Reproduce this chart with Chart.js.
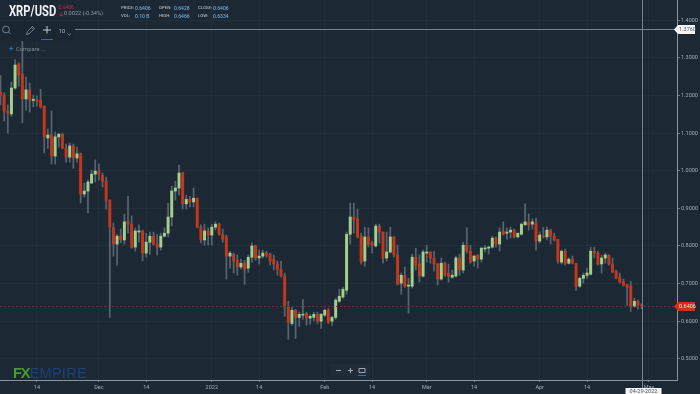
<!DOCTYPE html>
<html>
<head>
<meta charset="utf-8">
<title>XRP/USD</title>
<script src="https://cdn.jsdelivr.net/npm/chart.js@4/dist/chart.umd.js"></script>
<style>
    html, body { margin: 0; padding: 0; background: #1c2935; }
    #wrap { position: relative; width: 700px; height: 394px; overflow: hidden; font-family: Roboto, sans-serif; }
    #chart { position: absolute; left: 0; top: 0; }
    .t { position: absolute; white-space: nowrap; line-height: 1; }
    .lbl { font-size: 4.3px; color: #aeb6bd; font-weight: 500; }
    .val { font-size: 5px; color: #6fa6d6; font-weight: 500; margin-top: -0.3px; }
    svg { position: absolute; }
</style>
</head>
<body>
<div id="wrap">
    <canvas id="chart" width="700" height="394"></canvas>

    <!-- header -->
    <div class="t" style="left:9px;top:4px;font-size:14px;font-weight:700;color:#eef1f3;font-family:'Roboto';transform:scaleX(.8);transform-origin:left">XRP/USD</div>
    <div class="t" style="left:58.5px;top:5px;font-size:5px;color:#c8263f">0.6406</div>
    <div class="t" style="left:59px;top:10.5px;font-size:6px;color:#c8263f;font-weight:700">&#129123;</div>
    <div class="t" style="left:64px;top:11px;font-size:5.6px;color:#8f99a2">0.0022 (-0.34%)</div>

    <div class="t lbl" style="left:121px;top:6px">PRICE:</div><div class="t val" style="left:135px;top:6px">0.6406</div>
    <div class="t lbl" style="left:159px;top:6px">OPEN:</div><div class="t val" style="left:174px;top:6px">0.6428</div>
    <div class="t lbl" style="left:198px;top:6px">CLOSE:</div><div class="t val" style="left:213px;top:6px">0.6406</div>
    <div class="t lbl" style="left:121px;top:14px">VOL:</div><div class="t val" style="left:135px;top:14px">0.10 B</div>
    <div class="t lbl" style="left:159px;top:14px">HIGH:</div><div class="t val" style="left:174px;top:14px">0.6466</div>
    <div class="t lbl" style="left:198px;top:14px">LOW:</div><div class="t val" style="left:213px;top:14px">0.6334</div>

    <!-- toolbar -->
    <div style="position:absolute;left:0;top:22px;width:75px;height:19px;background:#1a2631"></div>
    <svg style="left:0;top:22px" width="75" height="19" fill="none" stroke="#8e979f" stroke-width="0.8">
        <circle cx="6" cy="7.5" r="3.4"/><path d="M8.5 10l2 2"/>
        <path d="M26.5 12.5l1-3 5-5 2 2-5 5zM31.5 5.5l2 2"/>
        <path d="M47 4v7.5M43 8h8" stroke="#c3c9ce" stroke-width="1"/>
        <path d="M67.5 11.5l1.7 1.7 1.7-1.7"/>
    </svg>
    <div style="position:absolute;left:41px;top:39px;width:12px;height:1.2px;background:#2c6fb8"></div>
    <div class="t" style="left:58.5px;top:27.5px;font-size:6px;color:#aab2b9">10</div>
    <div class="t" style="left:9px;top:45px;font-size:8px;font-weight:700;color:#2c6fb8">+</div>
    <div class="t" style="left:16px;top:46.5px;font-size:5.8px;color:#7f8a93">Compare ...</div>

    <!-- zoom buttons -->
    <svg style="left:331px;top:364px" width="40" height="14" fill="none" stroke="#aeb6bd" stroke-width="0.9">
        <rect x="0" y="0" width="40" height="12" fill="#202d39" stroke="none"/>
        <path d="M5 6.5h5M17 6.5h5M19.5 4v5M28 4.5h6v4h-6z"/>
        <path d="M27 11.5h8" stroke="#2c6fb8" stroke-width="1"/>
    </svg>

    <!-- logo -->
    <div class="t" style="left:13px;top:366px;font-size:14.5px;font-family:'Liberation Sans'"><span style="color:#4e9a2d;font-weight:700;letter-spacing:-1px">FX</span><span style="color:#1c4078;letter-spacing:.3px">EMPIRE</span></div>
</div>

<script>
// XRP/USD daily candles, 2021-11-04 to 2022-04-29
const openVals = [
    1.209,1.201,1.159,1.151,1.220,1.284,1.257,1.191,1.215,1.187,
    1.188,1.188,1.172,1.087,1.095,1.039,1.090,1.097,1.060,1.036,
    1.066,1.034,1.045,0.938,0.946,0.967,0.991,0.999,0.988,0.972,
    0.922,0.848,0.805,0.826,0.816,0.864,0.858,0.797,0.837,0.840,
    0.781,0.810,0.826,0.805,0.797,0.826,0.834,0.877,0.946,0.954,
    0.994,0.912,0.924,0.917,0.927,0.850,0.816,0.840,0.829,0.850,
    0.858,0.831,0.824,0.773,0.778,0.762,0.744,0.754,0.741,0.770,
    0.800,0.768,0.773,0.781,0.778,0.765,0.752,0.738,0.720,0.637,
    0.594,0.629,0.610,0.616,0.621,0.608,0.610,0.618,0.600,0.616,
    0.629,0.600,0.610,0.653,0.664,0.682,0.831,0.877,0.872,0.826,
    0.760,0.824,0.808,0.800,0.853,0.837,0.768,0.784,0.824,0.776,
    0.701,0.722,0.693,0.693,0.770,0.752,0.720,0.781,0.784,0.768,
    0.752,0.712,0.754,0.728,0.717,0.720,0.768,0.736,0.802,0.786,
    0.760,0.776,0.765,0.792,0.794,0.797,0.821,0.805,0.840,0.834,
    0.837,0.842,0.824,0.831,0.856,0.864,0.858,0.861,0.813,0.826,
    0.824,0.842,0.826,0.818,0.757,0.786,0.754,0.765,0.754,0.693,
    0.714,0.722,0.725,0.786,0.781,0.752,0.768,0.776,0.752,0.733,
    0.717,0.706,0.698,0.693,0.640,0.653,0.6428
];
const closeVals = [
    1.201,1.159,1.153,1.220,1.281,1.254,1.191,1.215,1.188,1.190,
    1.185,1.170,1.090,1.095,1.039,1.090,1.097,1.060,1.036,1.066,
    1.034,1.045,0.938,0.946,0.970,0.991,0.999,0.991,0.972,0.922,
    0.850,0.805,0.826,0.816,0.864,0.858,0.797,0.840,0.840,0.781,
    0.810,0.826,0.805,0.797,0.826,0.834,0.877,0.946,0.954,0.994,
    0.912,0.924,0.917,0.927,0.850,0.816,0.840,0.829,0.850,0.858,
    0.831,0.818,0.773,0.781,0.760,0.744,0.754,0.738,0.770,0.800,
    0.768,0.773,0.781,0.776,0.760,0.752,0.738,0.720,0.637,0.597,
    0.629,0.610,0.618,0.618,0.608,0.613,0.618,0.600,0.618,0.629,
    0.597,0.610,0.656,0.666,0.685,0.831,0.877,0.869,0.824,0.757,
    0.824,0.805,0.802,0.853,0.837,0.768,0.784,0.824,0.776,0.698,
    0.722,0.693,0.696,0.770,0.749,0.720,0.784,0.784,0.768,0.752,
    0.712,0.754,0.722,0.720,0.722,0.768,0.736,0.802,0.786,0.757,
    0.773,0.765,0.794,0.794,0.797,0.821,0.805,0.837,0.831,0.837,
    0.842,0.824,0.834,0.858,0.864,0.856,0.864,0.813,0.829,0.824,
    0.842,0.826,0.816,0.760,0.786,0.754,0.765,0.754,0.693,0.714,
    0.722,0.728,0.786,0.781,0.752,0.768,0.776,0.752,0.730,0.714,
    0.704,0.696,0.690,0.640,0.653,0.642,0.6406
];
const highVals = [
    1.254,1.207,1.175,1.236,1.295,1.287,1.345,1.249,1.233,1.201,
    1.199,1.217,1.172,1.111,1.159,1.103,1.100,1.100,1.071,1.074,
    1.071,1.063,1.047,0.967,0.975,1.002,1.029,1.018,0.994,0.983,
    0.922,0.861,0.831,0.845,0.885,0.932,0.880,0.848,0.856,0.842,
    0.834,0.837,0.837,0.831,0.834,0.848,0.914,0.959,0.972,1.015,
    0.996,0.935,0.932,0.954,0.927,0.856,0.858,0.848,0.858,0.864,
    0.861,0.845,0.829,0.786,0.781,0.776,0.765,0.762,0.776,0.808,
    0.802,0.789,0.789,0.786,0.781,0.776,0.760,0.760,0.728,0.653,
    0.637,0.632,0.624,0.658,0.624,0.618,0.624,0.624,0.621,0.632,
    0.634,0.613,0.661,0.685,0.690,0.837,0.914,0.914,0.898,0.834,
    0.850,0.848,0.813,0.858,0.858,0.837,0.837,0.850,0.824,0.802,
    0.728,0.744,0.714,0.778,0.794,0.776,0.789,0.802,0.784,0.786,
    0.754,0.768,0.757,0.752,0.736,0.773,0.778,0.810,0.848,0.802,
    0.776,0.776,0.797,0.802,0.800,0.826,0.824,0.848,0.864,0.848,
    0.850,0.845,0.834,0.861,0.912,0.885,0.872,0.874,0.837,0.850,
    0.850,0.845,0.834,0.818,0.789,0.792,0.768,0.773,0.754,0.717,
    0.728,0.741,0.797,0.797,0.786,0.776,0.781,0.776,0.768,0.736,
    0.728,0.712,0.698,0.706,0.661,0.656,0.6466
];
const lowVals = [
    1.175,1.132,1.100,1.145,1.217,1.225,1.127,1.161,1.156,1.170,
    1.172,1.167,1.047,1.060,1.018,1.018,1.063,1.058,1.023,1.023,
    1.007,1.023,0.914,0.930,0.888,0.967,0.970,0.975,0.956,0.898,
    0.610,0.773,0.749,0.808,0.805,0.834,0.794,0.786,0.810,0.760,
    0.770,0.778,0.802,0.776,0.789,0.824,0.824,0.853,0.922,0.935,
    0.898,0.898,0.904,0.904,0.848,0.808,0.802,0.802,0.802,0.842,
    0.829,0.810,0.712,0.741,0.728,0.722,0.738,0.698,0.730,0.757,
    0.762,0.752,0.768,0.770,0.749,0.736,0.722,0.717,0.613,0.552,
    0.589,0.554,0.586,0.605,0.589,0.592,0.600,0.594,0.581,0.613,
    0.594,0.589,0.605,0.650,0.661,0.672,0.805,0.834,0.821,0.752,
    0.746,0.797,0.781,0.797,0.808,0.754,0.760,0.781,0.770,0.696,
    0.672,0.690,0.621,0.688,0.736,0.704,0.717,0.757,0.754,0.733,
    0.696,0.709,0.720,0.704,0.714,0.717,0.722,0.728,0.781,0.754,
    0.746,0.741,0.757,0.784,0.778,0.794,0.797,0.786,0.829,0.818,
    0.821,0.821,0.821,0.829,0.856,0.842,0.845,0.789,0.808,0.821,
    0.816,0.805,0.813,0.754,0.752,0.749,0.752,0.752,0.682,0.690,
    0.701,0.714,0.722,0.768,0.749,0.728,0.754,0.749,0.730,0.714,
    0.701,0.693,0.642,0.626,0.637,0.632,0.6334
];

// x ticks: day index counted from 2021-11-04
const tickDays = [10, 27, 40, 58, 71, 89, 102, 117, 130, 148, 161, 178];
const tickLabels = ['14', 'Dec', '14', '2022', '14', 'Feb', '14', 'Mar', '14', 'Apr', '14', 'May'];
const priceTicks = [0.5, 0.6, 0.7, 0.8, 0.9, 1.0, 1.1, 1.2, 1.3, 1.4];

const crossDay = 176;
const crossPrice = 1.376;
const crossDate = '04-29-2022';

const UP = '#a2d08c';
const DOWN = '#c5371b';
const WICK = '#56636e';

const candleColors = closeVals.map((c, i) => (c >= openVals[i] ? UP : DOWN));

// crosshair, last price line and the two tags on the axes
const overlayPlugin = {
    id: 'overlay',
    afterDraw(chart) {
        const { ctx, chartArea, scales } = chart;
        const lastClose = closeVals[closeVals.length - 1];
        const lastY = Math.round(scales.y.getPixelForValue(lastClose)) + 0.5;
        const crossY = Math.round(scales.y.getPixelForValue(crossPrice)) + 0.5;
        const crossX = Math.round(scales.x.getPixelForValue(crossDay)) + 0.5;

        ctx.save();
        ctx.lineWidth = 1;

        ctx.strokeStyle = '#6b3330';
        ctx.setLineDash([2, 2]);
        ctx.beginPath();
        ctx.moveTo(chartArea.left, lastY);
        ctx.lineTo(chartArea.right, lastY);
        ctx.stroke();
        ctx.setLineDash([]);

        ctx.strokeStyle = '#78838c';
        ctx.beginPath();
        ctx.moveTo(75, crossY);
        ctx.lineTo(chartArea.right, crossY);
        ctx.moveTo(crossX, chartArea.top);
        ctx.lineTo(crossX, chartArea.bottom + 8);
        ctx.stroke();

        const tag = (y, fill, text, color) => {
            ctx.fillStyle = fill;
            ctx.beginPath();
            ctx.moveTo(chartArea.right - 3, y);
            ctx.lineTo(chartArea.right + 1, y - 4.5);
            ctx.lineTo(chartArea.right + 18, y - 4.5);
            ctx.lineTo(chartArea.right + 18, y + 4.5);
            ctx.lineTo(chartArea.right + 1, y + 4.5);
            ctx.closePath();
            ctx.fill();
            ctx.fillStyle = color;
            ctx.font = '5.5px Roboto';
            ctx.textAlign = 'left';
            ctx.textBaseline = 'middle';
            ctx.fillText(text, chartArea.right + 2, y + 0.5);
        };
        tag(lastY, '#c5371b', lastClose.toFixed(4), '#f2d9d2');
        tag(crossY, '#f4f5f6', crossPrice.toFixed(4), '#5b6670');

        ctx.fillStyle = '#f4f5f6';
        ctx.fillRect(crossX - 17, 388, 36, 6);
        ctx.fillStyle = '#4a555f';
        ctx.font = '5.5px Roboto';
        ctx.textAlign = 'center';
        ctx.textBaseline = 'middle';
        ctx.fillText(crossDate, crossX + 1, 391.2);
        ctx.restore();
    }
};

new Chart(document.getElementById('chart').getContext('2d'), {
    type: 'bar',
    data: {
        datasets: [
            {
                label: 'Body',
                data: openVals.map((o, i) => ({ x: i, y: [o, closeVals[i]] })),
                backgroundColor: candleColors,
                barThickness: 2.3,
                minBarLength: 1,
                grouped: false,
                order: 1
            },
            {
                label: 'Wick',
                data: lowVals.map((l, i) => ({ x: i, y: [l, highVals[i]] })),
                backgroundColor: WICK,
                barThickness: 1.1,
                grouped: false,
                order: 2
            }
        ]
    },
    options: {
        responsive: false,
        animation: false,
        layout: { padding: 0 },
        plugins: {
            legend: { display: false },
            tooltip: { enabled: false }
        },
        scales: {
            x: {
                type: 'linear',
                offset: false,
                min: -0.14,
                max: 185.7,
                afterBuildTicks: scale => {
                    scale.ticks = tickDays.map(d => ({ value: d }));
                },
                afterFit: scale => {
                    scale.height = 14;
                },
                border: { color: '#8b959d', width: 1 },
                grid: { color: '#232f3b', offset: false, tickColor: '#6d7780', tickLength: 2 },
                ticks: {
                    autoSkip: false,
                    maxRotation: 0,
                    padding: 2,
                    color: '#a4acb3',
                    font: { family: 'Roboto', size: 5.5 },
                    callback: value => tickLabels[tickDays.indexOf(value)]
                }
            },
            y: {
                position: 'right',
                min: 0.4436,
                max: 1.454,
                afterBuildTicks: scale => {
                    scale.ticks = priceTicks.map(p => ({ value: p }));
                },
                afterFit: scale => {
                    // labels must not push the plot down from the top edge
                    scale.width = 23;
                    scale.paddingTop = 0;
                    scale.paddingBottom = 0;
                },
                border: { color: '#8b959d', width: 1 },
                grid: { color: '#232f3b', tickColor: '#6d7780', tickLength: 3 },
                ticks: {
                    padding: 1,
                    color: '#a4acb3',
                    font: { family: 'Roboto', size: 5.5 },
                    callback: value => value.toFixed(4)
                }
            }
        }
    },
    plugins: [overlayPlugin]
});
</script>
</body>
</html>
